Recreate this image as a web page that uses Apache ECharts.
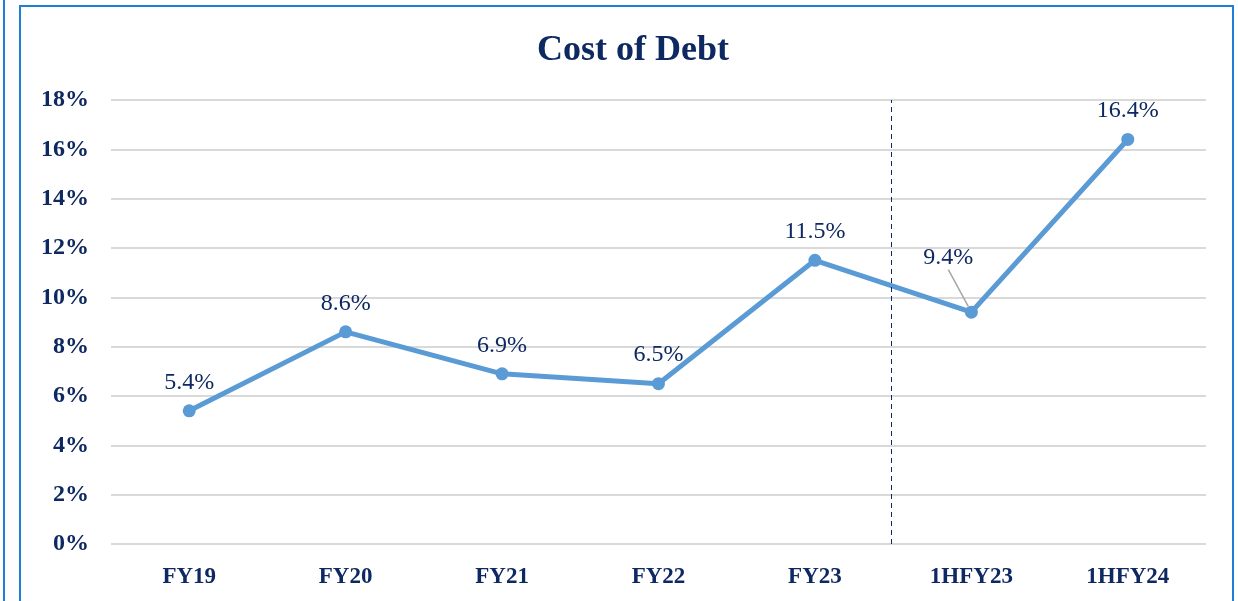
<!DOCTYPE html>
<html>
<head>
<meta charset="utf-8">
<script src="https://cdn.jsdelivr.net/npm/echarts@6/dist/echarts.min.js"></script>
<style>
  html, body { margin: 0; padding: 0; background: #fff; }
  #chart { width: 1238px; height: 601px; }
</style>
</head>
<body>
<div id="chart"></div>
<script>
const categories = ['FY19', 'FY20', 'FY21', 'FY22', 'FY23', '1HFY23', '1HFY24']
const costOfDebt = [5.4, 8.6, 6.9, 6.5, 11.5, 9.4, 16.4]
const yTicks = [0, 2, 4, 6, 8, 10, 12, 14, 16, 18]
// divider sits between FY23 and 1HFY23 (in category units, 0..7)
const dividerAt = 4.985

const navy = '#0E2862'
const serif = '"Liberation Serif", "DejaVu Serif", serif'
const frame = '#1F7FD3'

const chart = echarts.init(document.getElementById('chart'))
chart.setOption({
  animation: false,
  title: {
    text: 'Cost of Debt',
    left: 532,
    top: 28,
    textStyle: { fontFamily: serif, fontWeight: 'bold', fontSize: 36, color: navy }
  },
  graphic: [
    { type: 'line', shape: { x1: 4, y1: 0, x2: 4, y2: 601 }, style: { stroke: frame, lineWidth: 2 } },
    { type: 'rect', shape: { x: 20, y: 6, width: 1213, height: 640 }, style: { fill: 'none', stroke: frame, lineWidth: 2 } }
  ],
  grid: { left: 111, right: 32, top: 100, bottom: 57 },
  xAxis: [
    {
      type: 'category',
      data: categories,
      axisLine: { show: false },
      axisTick: { show: false },
      axisLabel: { margin: 22, fontFamily: serif, fontWeight: 'bold', fontSize: 23, color: navy }
    },
    { type: 'value', min: 0, max: 7, show: false }
  ],
  yAxis: {
    type: 'value',
    min: yTicks[0],
    max: yTicks[yTicks.length - 1],
    interval: 2,
    axisLine: { show: false },
    axisTick: { show: false },
    splitLine: { lineStyle: { color: '#D9D9D9', width: 2 } },
    axisLabel: { margin: 22, padding: [4, 0, 0, 0], formatter: '{value}%', fontFamily: serif, fontWeight: 'bold', fontSize: 24, color: navy }
  },
  series: [
    {
      type: 'line',
      data: costOfDebt.map((v, i) => i === 5
        ? { value: v, labelLine: { show: true, lineStyle: { color: '#A6A6A6', width: 1.5 } } }
        : v),
      symbol: 'circle',
      symbolSize: 13,
      lineStyle: { color: '#5B9BD5', width: 5 },
      itemStyle: { color: '#5B9BD5' },
      label: {
        show: true,
        position: 'top',
        distance: 10,
        formatter: p => p.value.toFixed(1) + '%',
        fontFamily: serif,
        fontSize: 24,
        color: navy
      },
      labelLayout: p => p.dataIndex === 5 ? { dx: -23, dy: -26 } : {},
      z: 3
    },
    {
      type: 'line',
      xAxisIndex: 1,
      data: [],
      markLine: {
        silent: true,
        symbol: 'none',
        label: { show: false },
        lineStyle: { color: navy, type: [5, 4], width: 1 },
        data: [{ xAxis: dividerAt }]
      }
    }
  ]
})
</script>
</body>
</html>
